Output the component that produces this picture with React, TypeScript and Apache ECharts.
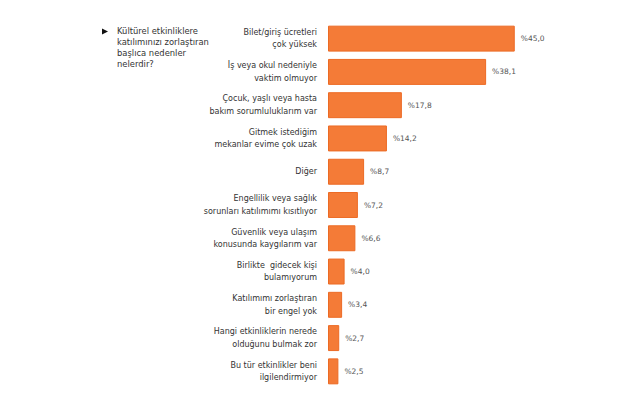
import { useRef, useEffect } from "react";
import * as echarts from "echarts";

const categories = [
  "Bilet/giriş ücretleri\nçok yüksek",
  "İş veya okul nedeniyle\nvaktim olmuyor",
  "Çocuk, yaşlı veya hasta\nbakım sorumluluklarım var",
  "Gitmek istediğim\nmekanlar evime çok uzak",
  "Diğer",
  "Engellilik veya sağlık\nsorunları katılımımı kısıtlıyor",
  "Güvenlik veya ulaşım\nkonusunda kaygılarım var",
  "Birlikte  gidecek kişi\nbulamıyorum",
  "Katılımımı zorlaştıran\nbir engel yok",
  "Hangi etkinliklerin nerede\nolduğunu bulmak zor",
  "Bu tür etkinlikler beni\nilgilendirmiyor",
];
const values = [45.0, 38.1, 17.8, 14.2, 8.7, 7.2, 6.6, 4.0, 3.4, 2.7, 2.5];
const question = "Kültürel etkinliklere\nkatılımınızı zorlaştıran\nbaşlıca nedenler\nnelerdir?";

const FONT = "DejaVu Sans";

const App = () => {
  const chartRef = useRef<HTMLDivElement>(null);
  useEffect(() => {
    document.body.style.margin = "0";
    if (!chartRef.current) return;
    const myChart = echarts.init(chartRef.current, undefined, { renderer: "svg" });
    myChart.setOption({
      animation: false,
      backgroundColor: "#ffffff",
      grid: { left: 328, top: 22, width: 207.5, height: 366 },
      xAxis: {
        type: "value",
        min: 0,
        max: 50,
        show: false,
      },
      yAxis: {
        type: "category",
        inverse: true,
        data: categories,
        axisLine: { show: false },
        axisTick: { show: false },
        axisLabel: {
          margin: 11,
          align: "right",
          fontFamily: FONT,
          fontSize: 8,
          lineHeight: 12.4,
          color: "#333333",
        },
      },
      series: [
        {
          type: "bar",
          data: values,
          barCategoryGap: "22%",
          itemStyle: { color: "#F47B37", borderColor: "#EC6A24", borderWidth: 1 },
          label: {
            show: true,
            position: "right",
            distance: 6,
            fontFamily: FONT,
            fontSize: 7.5,
            color: "#555555",
            formatter: (p: any) => "%" + Number(p.value).toFixed(1).replace(".", ","),
          },
        },
      ],
      graphic: [
        {
          type: "polygon",
          shape: { points: [[102, 28.5], [108, 31.5], [102, 34.5]] },
          style: { fill: "#111111" },
        },
        {
          type: "text",
          x: 117,
          y: 25.5,
          style: {
            text: question,
            fontFamily: FONT,
            fontSize: 8.4,
            lineHeight: 11,
            fill: "#333333",
          },
        },
      ],
    });
    return () => {
      myChart.dispose();
    };
  }, []);

  return <div ref={chartRef} style={{ width: 640, height: 410 }}></div>;
};

export default App;
